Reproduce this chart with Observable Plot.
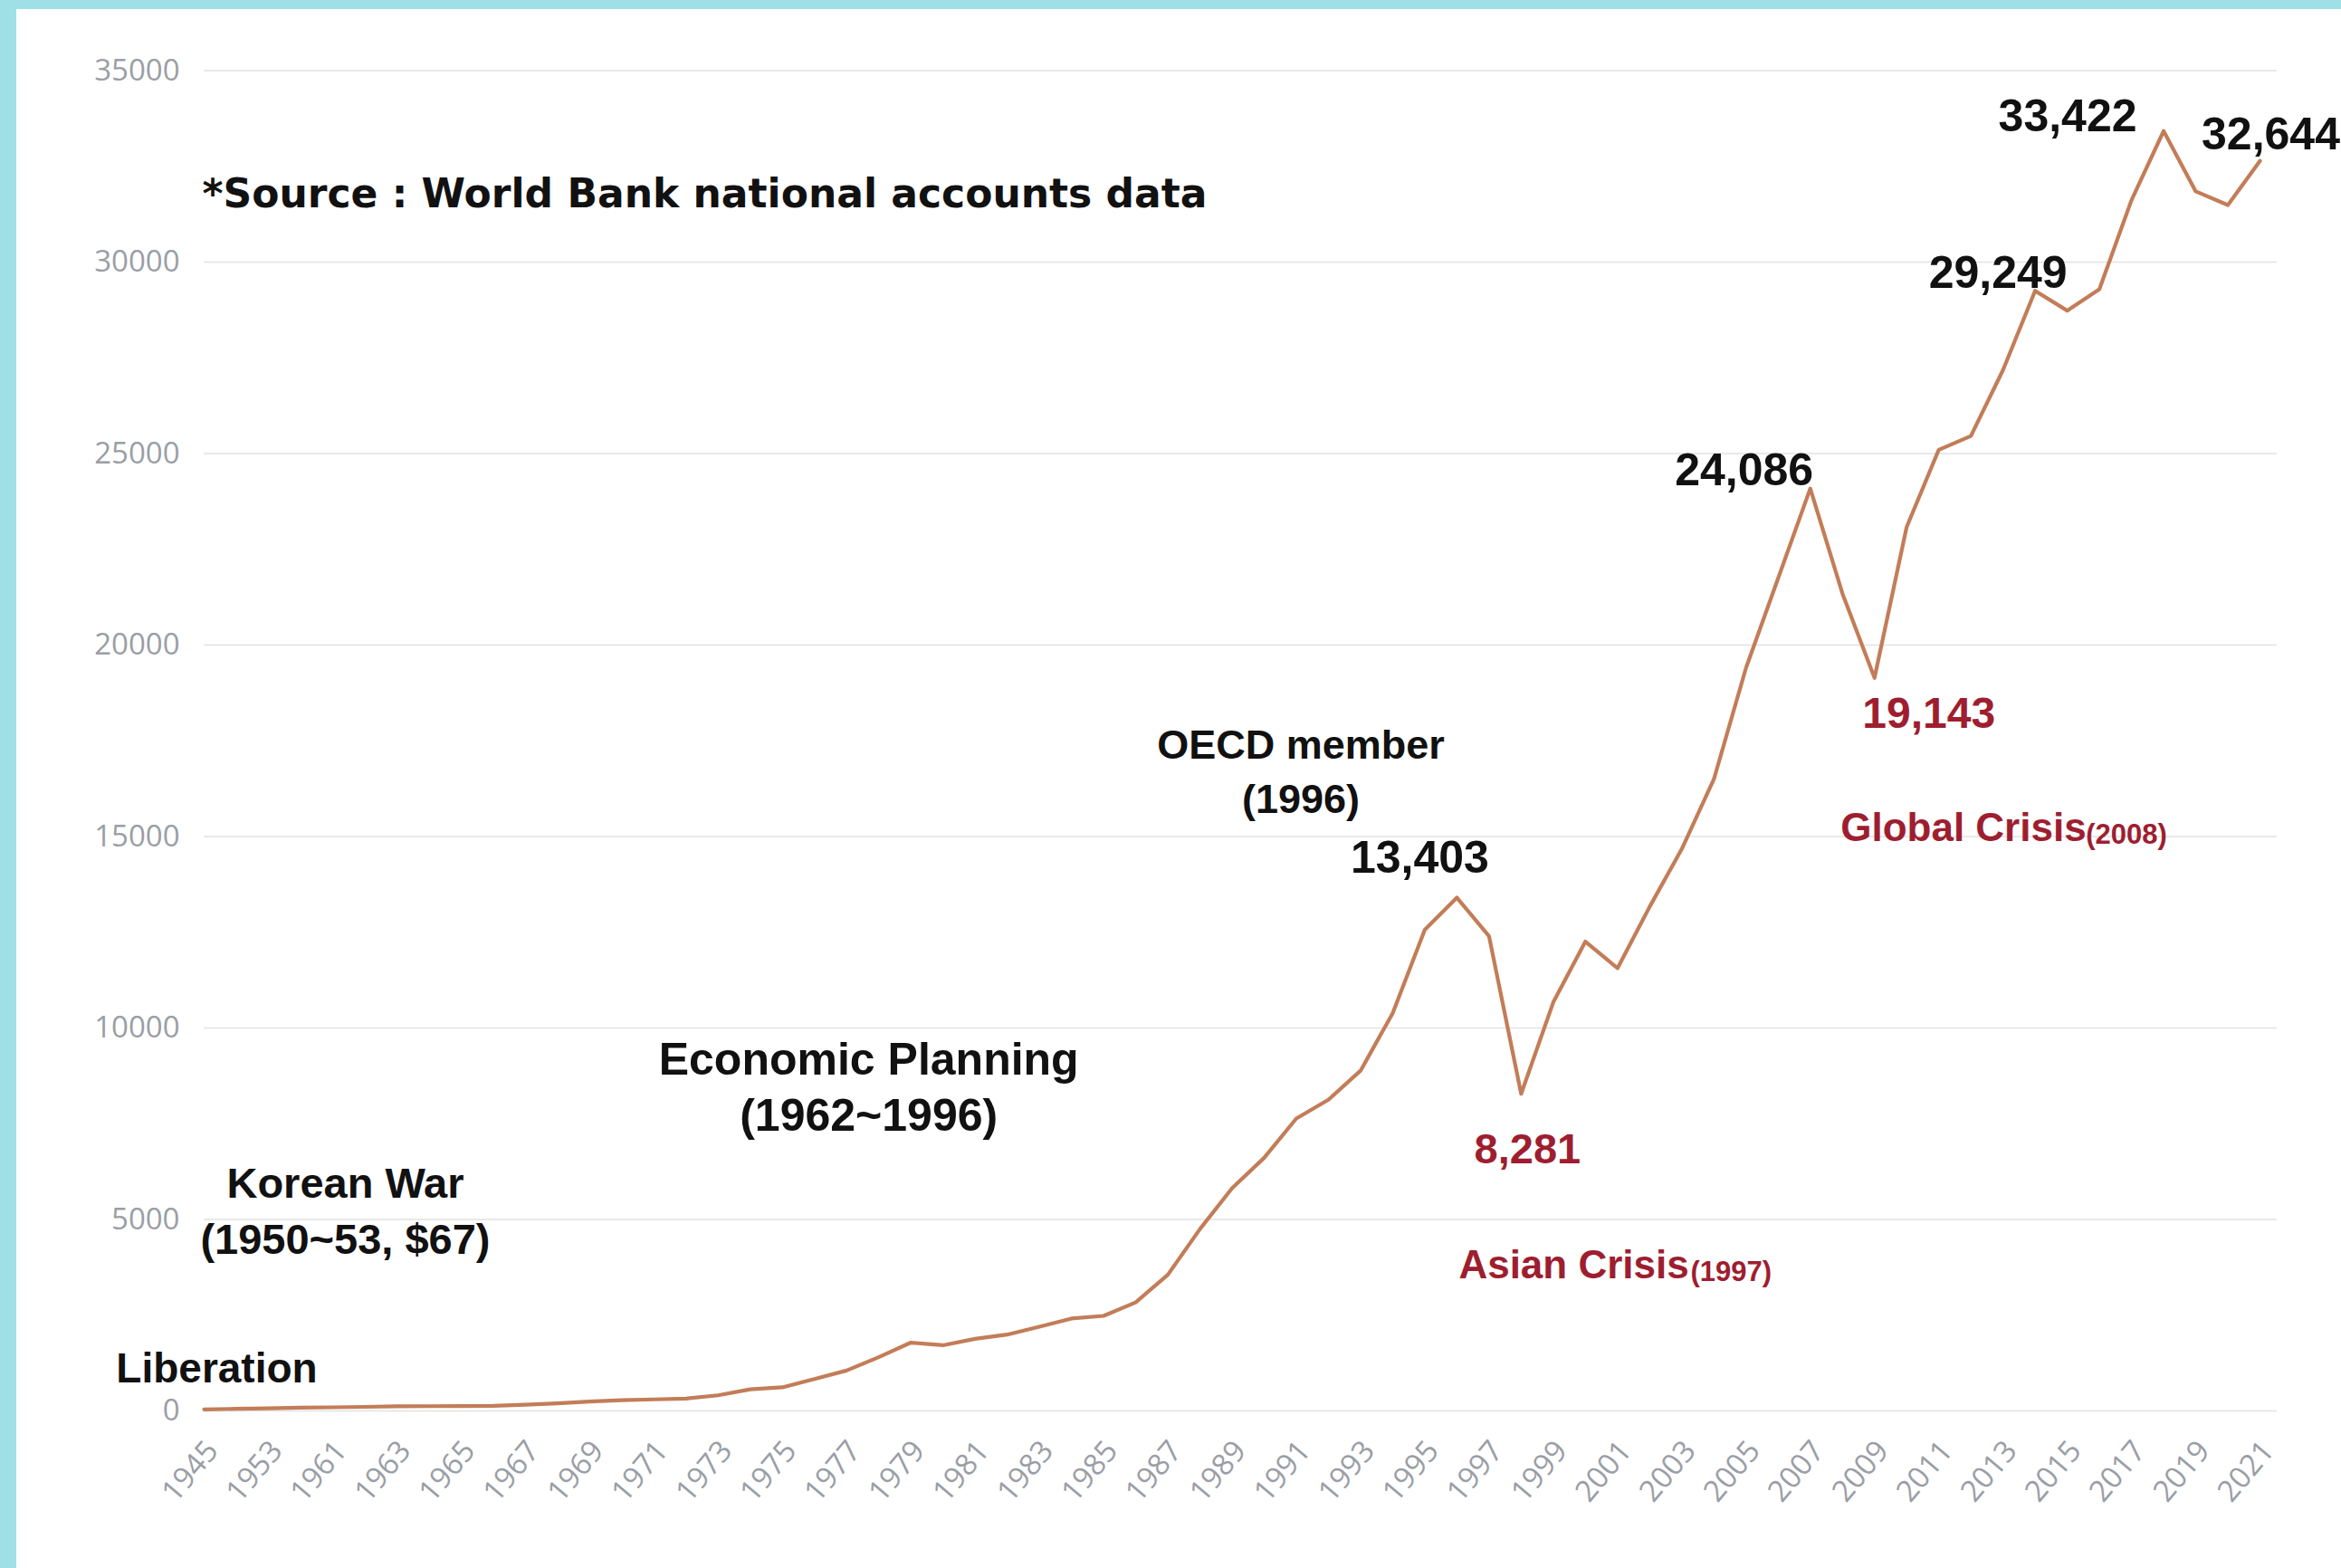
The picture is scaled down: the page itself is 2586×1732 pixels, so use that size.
<!DOCTYPE html>
<html>
<head>
<meta charset="utf-8">
<script src="https://cdn.jsdelivr.net/npm/d3@7"></script>
<script src="https://cdn.jsdelivr.net/npm/@observablehq/plot@0.6"></script>
<style>
  html, body { margin: 0; padding: 0; background: #ffffff; }
  body { width: 2586px; height: 1732px; position: relative; overflow: hidden; }
  #chart { position: absolute; left: 0; top: 0; }
  .strip { position: absolute; background: #9fe0e6; }
  #stripLeft { left: 0; top: 0; width: 18px; height: 1732px; }
  #stripTop { left: 0; top: 0; width: 2586px; height: 10px; }
</style>
</head>
<body>
<div id="chart"></div>
<div class="strip" id="stripLeft"></div>
<div class="strip" id="stripTop"></div>
<script>
// Categories (every year shown on the category axis; only every other one is labelled)
const years = [
  "1945","1950","1953","1960",
  "1961","1962","1963","1964","1965","1966","1967","1968","1969","1970",
  "1971","1972","1973","1974","1975","1976","1977","1978","1979","1980",
  "1981","1982","1983","1984","1985","1986","1987","1988","1989","1990",
  "1991","1992","1993","1994","1995","1996","1997","1998","1999","2000",
  "2001","2002","2003","2004","2005","2006","2007","2008","2009","2010",
  "2011","2012","2013","2014","2015","2016","2017","2018","2019","2020","2021"
];

// GDP per capita (US$)
const gdpPerCapita = [
  40, 55, 67, 85,
  94, 106, 120, 124, 128, 135, 161, 198, 243, 279,
  301, 324, 407, 564, 616, 834, 1055, 1405, 1784, 1715,
  1883, 1993, 2199, 2413, 2482, 2835, 3555, 4748, 5817, 6610,
  7637, 8127, 8885, 10385, 12565, 13403, 12398, 8281, 10672, 12257,
  11561, 13165, 14673, 16496, 19403, 21743, 24086, 21350, 19143, 23079,
  25098, 25459, 27180, 29249, 28732, 29289, 31617, 33422, 31846, 31489, 32644
];

// Tick labels
const xTickLabels = [
  "1945","1953","1961","1963","1965","1967","1969","1971","1973","1975",
  "1977","1979","1981","1983","1985","1987","1989","1991","1993","1995",
  "1997","1999","2001","2003","2005","2007","2009","2011","2013","2015",
  "2017","2019","2021"
];
const yTicks = [0, 5000, 10000, 15000, 20000, 25000, 30000, 35000];

// Value call-outs
const callouts = [
  {key: "p1996", year: "1996", value: 13403, label: "13,403"},
  {key: "p1998", year: "1998", value: 8281,  label: "8,281"},
  {key: "p2007", year: "2007", value: 24086, label: "24,086"},
  {key: "p2009", year: "2009", value: 19143, label: "19,143"},
  {key: "p2014", year: "2014", value: 29249, label: "29,249"},
  {key: "p2018", year: "2018", value: 33422, label: "33,422"},
  {key: "p2021", year: "2021", value: 32644, label: "32,644"}
];

// Text annotations (anchored in data space: category + value)
const notes = [
  {key: "source",  year: "1945", value: 31770, text: "*Source : World Bank national accounts data"},
  {key: "lib",     year: "1945", value: 1100,  text: "Liberation"},
  {key: "war",     year: "1953", value: 5300,  text: "Korean War\n(1950~53, $67)"},
  {key: "plan",    year: "1978", value: 8530,  text: "Economic Planning\n(1962~1996)"},
  {key: "oecd",    year: "1991", value: 16785, text: "OECD member\n(1996)"},
  {key: "asian",   year: "1996", value: 3475,  text: "Asian Crisis"},
  {key: "asianY",  year: "1996", value: 3475,  text: "(1997)"},
  {key: "global",  year: "2008", value: 14870, text: "Global Crisis"},
  {key: "globalY", year: "2008", value: 14870, text: "(2008)"}
];

const series = years.map((y, i) => ({year: y, value: gdpPerCapita[i]}));
const pick = (arr, k) => arr.filter(d => d.key === k);

const BLACK = "#111111";
const RED = "#9e1e30";
const bold = {fontFamily: "Liberation Sans, Arial, sans-serif", fontWeight: "bold"};

const callout = (k, dx, dy, fill, fontSize) =>
  Plot.text(pick(callouts, k), {x: "year", y: "value", text: "label", dx, dy, fill, fontSize, ...bold});

const note = (k, opts) =>
  Plot.text(pick(notes, k), {x: "year", y: "value", text: "text", ...bold, ...opts});

const chart = Plot.plot({
  width: 2586,
  height: 1732,
  marginLeft: 225,
  marginRight: 71,
  marginTop: 77.5,
  marginBottom: 174,
  style: {background: "transparent", fontFamily: "'Open Sans', sans-serif", overflow: "visible"},
  x: {type: "point", domain: years, padding: 0, insetRight: 19, axis: null},
  y: {domain: [0, 35000], axis: null},
  marks: [
    Plot.gridY(yTicks, {stroke: "#e2e2e2", strokeOpacity: 1, strokeWidth: 1.6}),
    Plot.axisY({ticks: yTicks, tickSize: 0, tickPadding: 27, fontSize: 33, color: "#9a9ea6",
                tickFormat: "d", label: null}),
    Plot.axisX({ticks: xTickLabels, tickSize: 0, tickPadding: 38, tickRotate: -50, fontSize: 33,
                dx: 9, color: "#9a9ea6", label: null}),
    Plot.line(series, {x: "year", y: "value", stroke: "#c27d58", strokeWidth: 4.2,
                       strokeLinejoin: "round", strokeLinecap: "round"}),

    // value call-outs
    callout("p1996", -41, -44, BLACK, 50),
    callout("p1998", 7, 62, RED, 47),
    callout("p2007", -73, -20, BLACK, 50),
    callout("p2009", 60, 40, RED, 48),
    callout("p2014", -41, -19, BLACK, 50),
    callout("p2018", -106, -16, BLACK, 50),
    callout("p2021", 12, -29, BLACK, 50),

    // annotations
    note("source", {textAnchor: "start", dx: -2, fontSize: 44, fill: BLACK,
                    fontFamily: "DejaVu Sans, sans-serif"}),
    note("lib",    {dx: 14, fontSize: 46, fill: BLACK}),
    note("war",    {dx: 85, fontSize: 47, lineHeight: 1.32, fill: BLACK}),
    note("plan",   {dx: -11, fontSize: 50, lineHeight: 1.24, fill: BLACK}),
    note("oecd",   {dx: 5, fontSize: 45, lineHeight: 1.35, fill: BLACK}),
    note("asian",  {textAnchor: "start", lineAnchor: "bottom", dx: 2, fontSize: 44, fill: RED}),
    note("asianY", {textAnchor: "start", lineAnchor: "bottom", dx: 258, dy: 3, fontSize: 31, fill: RED}),
    note("global", {textAnchor: "start", lineAnchor: "bottom", dx: -2, fontSize: 44, fill: RED}),
    note("globalY",{textAnchor: "start", lineAnchor: "bottom", dx: 269, dy: 3, fontSize: 31, fill: RED})
  ]
});

document.getElementById("chart").appendChild(chart);
</script>
</body>
</html>
